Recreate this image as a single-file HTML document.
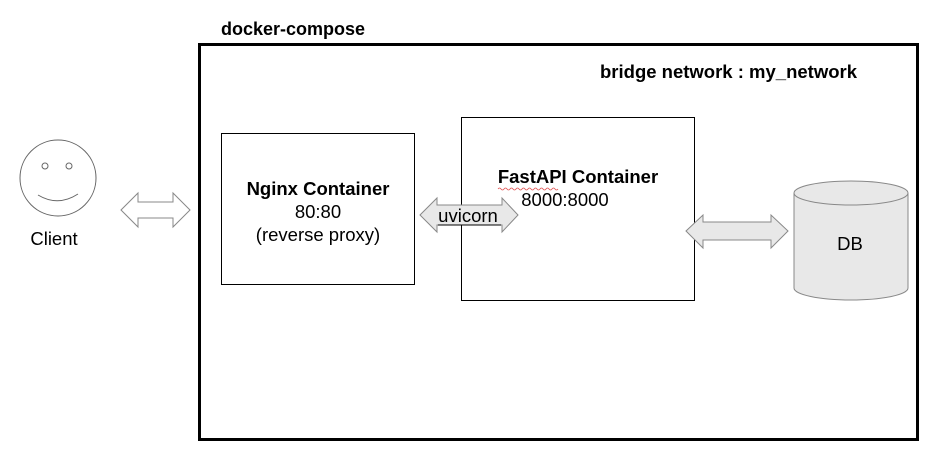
<!DOCTYPE html>
<html><head><meta charset="utf-8"><style>body{margin:0;background:#fff}</style></head>
<body>
<svg width="933" height="460" viewBox="0 0 933 460" xmlns="http://www.w3.org/2000/svg" font-family="Liberation Sans, Arial, sans-serif" font-size="18.5">
<rect x="199.5" y="44.5" width="718" height="395" fill="none" stroke="#000" stroke-width="3"/>
<text x="221" y="35" font-weight="bold" font-size="18">docker-compose</text>
<text x="600" y="78" font-weight="bold">bridge network : my_network</text>
<!-- client -->
<circle cx="58" cy="178" r="38" fill="#fff" stroke="#666" stroke-width="1"/>
<circle cx="45" cy="166" r="3" fill="none" stroke="#666"/>
<circle cx="69" cy="166" r="3" fill="none" stroke="#666"/>
<path d="M38 195 Q58 207 78 194" fill="none" stroke="#666"/>
<text x="54" y="245" text-anchor="middle">Client</text>
<polygon points="121,210 138,193 138,202 173,202 173,193 190,210 173,227 173,218 138,218 138,227" fill="#fff" stroke="#888"/>
<!-- nginx -->
<rect x="221.5" y="133.5" width="193" height="151" fill="#fff" stroke="#000"/>
<text x="318" y="195" text-anchor="middle" font-weight="bold">Nginx Container</text>
<text x="318" y="218" text-anchor="middle">80:80</text>
<text x="318" y="241" text-anchor="middle">(reverse proxy)</text>
<!-- fastapi -->
<rect x="461.5" y="117.5" width="233" height="183" fill="#fff" stroke="#000"/>
<text x="578" y="183" text-anchor="middle" font-weight="bold">FastAPI Container</text>
<path d="M498 189 q1.5 -2 3 0 t3 0 t3 0 t3 0 t3 0 t3 0 t3 0 t3 0 t3 0 t3 0 t3 0 t3 0 t3 0 t3 0 t3 0 t3 0 t3 0 t3 0 t3 0 t3 0" fill="none" stroke="#e05050" stroke-width="0.8"/>
<text x="565" y="206" text-anchor="middle">8000:8000</text>
<polygon points="420,215 437,198 437,205 502,205 502,198 518,215 502,232 502,225 437,225 437,232" fill="#e8e8e8" stroke="#888"/>
<text x="468" y="222" text-anchor="middle">uvicorn</text>
<line x1="438" y1="225" x2="501" y2="225" stroke="#000"/>
<!-- db arrow -->
<polygon points="686,231 703,215 703,222 771,222 771,215 788,231 771,248 771,240 703,240 703,248" fill="#e8e8e8" stroke="#888"/>
<!-- db -->
<path d="M794 193 L794 288 A57 12 0 0 0 908 288 L908 193" fill="#e8e8e8" stroke="#888"/>
<ellipse cx="851" cy="193" rx="57" ry="12" fill="#e8e8e8" stroke="#888"/>
<text x="850" y="250" text-anchor="middle">DB</text>
</svg>
</body></html>
